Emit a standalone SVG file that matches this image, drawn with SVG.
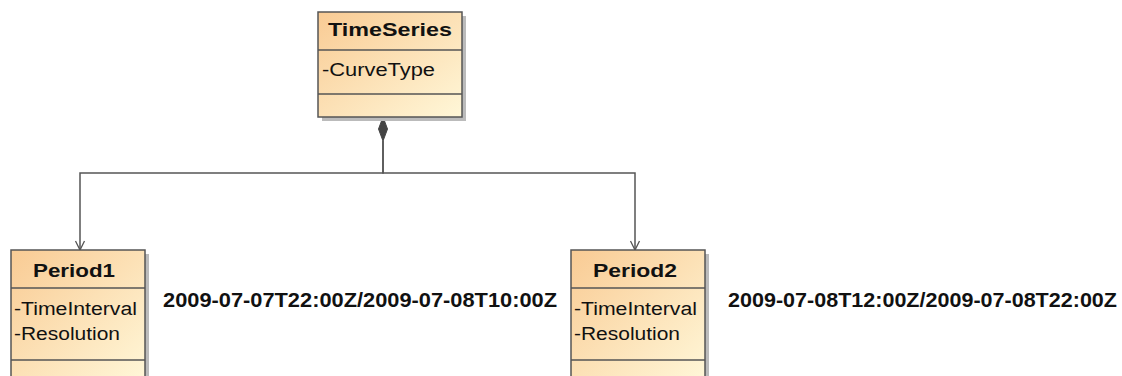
<svg xmlns="http://www.w3.org/2000/svg" width="1122" height="376" viewBox="0 0 1122 376">
<defs>
<linearGradient id="g" x1="0" y1="0" x2="1" y2="1">
<stop offset="0" stop-color="#F9CB94"/>
<stop offset="1" stop-color="#FFF7D8"/>
</linearGradient>
<marker id="open" markerWidth="12" markerHeight="12" refX="10" refY="6" orient="auto" markerUnits="userSpaceOnUse" viewBox="0 0 12 12">
<path d="M1,1.5 L10,6 L1,10.5" fill="none" stroke="#555" stroke-width="1.3"/>
</marker>
<style>
.box{fill:url(#g);stroke:#555;stroke-width:1.5}
.sh{fill:#bbb}
.sep{stroke:#555;stroke-width:1.5}
.hd{font-family:"Liberation Sans",Arial,sans-serif;font-weight:bold;font-size:18px;fill:#111;text-anchor:middle}
.at{font-family:"Liberation Sans",Arial,sans-serif;font-size:18px;fill:#111}
.lb{font-family:"Liberation Sans",Arial,sans-serif;font-weight:bold;font-size:20px;fill:#111}
.cn{fill:none;stroke:#555;stroke-width:1.5}
</style>
</defs>
<rect width="1122" height="376" fill="#fff"/>
<g id="connectors">
<path class="cn" d="M383,141 V173 H80 V250" marker-end="url(#open)"/>
<path class="cn" d="M383,141 V173 H635 V250" marker-end="url(#open)"/>
<path d="M383,117 L387.5,129 L383,141 L378.5,129 Z" fill="#444" stroke="#444" stroke-width="1"/>
</g>
<g id="TimeSeries">
<rect class="sh" x="322" y="16" width="144" height="105"/>
<rect class="box" x="318" y="12" width="144" height="105"/>
<line class="sep" x1="318" y1="50" x2="462" y2="50"/>
<line class="sep" x1="318" y1="94" x2="462" y2="94"/>
<text class="hd" x="390" y="36" textLength="124" lengthAdjust="spacingAndGlyphs">TimeSeries</text>
<text class="at" x="322" y="76" textLength="113" lengthAdjust="spacingAndGlyphs">-CurveType</text>
</g>
<g id="Period1">
<rect class="sh" x="15" y="254" width="134" height="130"/>
<rect class="box" x="11" y="250" width="134" height="130"/>
<line class="sep" x1="11" y1="288" x2="145" y2="288"/>
<line class="sep" x1="11" y1="360" x2="145" y2="360"/>
<text class="hd" x="74" y="277" textLength="82" lengthAdjust="spacingAndGlyphs">Period1</text>
<text class="at" x="14" y="315" textLength="123" lengthAdjust="spacingAndGlyphs">-TimeInterval</text>
<text class="at" x="14" y="340" textLength="106" lengthAdjust="spacingAndGlyphs">-Resolution</text>
</g>
<g id="Period2">
<rect class="sh" x="575" y="254" width="134" height="130"/>
<rect class="box" x="571" y="250" width="134" height="130"/>
<line class="sep" x1="571" y1="288" x2="705" y2="288"/>
<line class="sep" x1="571" y1="360" x2="705" y2="360"/>
<text class="hd" x="635" y="277" textLength="84" lengthAdjust="spacingAndGlyphs">Period2</text>
<text class="at" x="574" y="315" textLength="123" lengthAdjust="spacingAndGlyphs">-TimeInterval</text>
<text class="at" x="574" y="340" textLength="106" lengthAdjust="spacingAndGlyphs">-Resolution</text>
</g>
<g id="labels">
<text class="lb" x="163" y="307" textLength="394" lengthAdjust="spacingAndGlyphs">2009-07-07T22:00Z/2009-07-08T10:00Z</text>
<text class="lb" x="728" y="307" textLength="389" lengthAdjust="spacingAndGlyphs">2009-07-08T12:00Z/2009-07-08T22:00Z</text>
</g>
</svg>
